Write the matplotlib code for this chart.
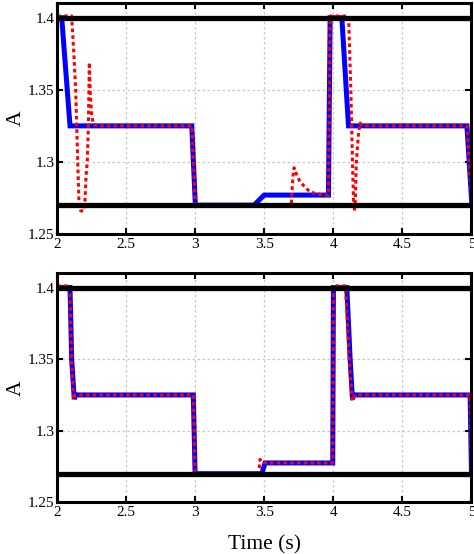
import matplotlib
matplotlib.use("Agg")
import matplotlib.pyplot as plt

plt.rcParams['font.family'] = ['Liberation Serif', 'DejaVu Serif']

# ---- data ----
x_ticks = [2, 2.5, 3, 3.5, 4, 4.5, 5]
x_tick_labels = ['2', '2.5', '3', '3.5', '4', '4.5', '5']
y_ticks = [1.25, 1.3, 1.35, 1.4]
y_tick_labels = ['1.25', '1.3', '1.35', '1.4']
upper_limit = 1.4
lower_limit = 1.27

# top panel - blue (reference)
t_blue_top = [2.00, 2.032, 2.092, 2.974, 3.000, 3.425, 3.498, 3.964, 3.976,
              4.061, 4.109, 4.967, 5.003]
y_blue_top = [1.40, 1.40, 1.325, 1.325, 1.27, 1.27, 1.277, 1.277, 1.40,
              1.40, 1.325, 1.325, 1.27]

# top panel - red dotted (response)
t_red_top = [2.00, 2.104, 2.118, 2.133, 2.148, 2.157, 2.170, 2.190, 2.200,
             2.208, 2.217, 2.225, 2.232, 2.240, 2.250, 2.261, 2.30, 2.974,
             3.000, 3.695, 3.700, 3.707, 3.715, 3.725, 3.759, 3.832, 3.928,
             3.964, 3.976, 4.110, 4.118, 4.126, 4.138, 4.146, 4.152, 4.158,
             4.166, 4.180, 4.193, 4.21, 4.967, 5.003]
y_red_top = [1.4012, 1.4012, 1.378, 1.35, 1.30, 1.272, 1.266, 1.266, 1.272,
             1.29, 1.30, 1.325, 1.369, 1.345, 1.332, 1.326, 1.325, 1.325,
             1.27, 1.27, 1.28, 1.29, 1.296, 1.293, 1.286, 1.279, 1.277,
             1.277, 1.4012, 1.4012, 1.375, 1.35, 1.30, 1.272, 1.266, 1.272,
             1.30, 1.318, 1.327, 1.325, 1.325, 1.27]

# bottom panel - blue
t_blue_bot = [2.00, 2.092, 2.104, 2.123, 2.13, 2.985, 2.998, 3.481, 3.505,
              3.995, 4.000, 4.097, 4.121, 4.138, 4.145, 4.99, 5.00]
y_blue_bot = [1.40, 1.40, 1.35, 1.322, 1.325, 1.325, 1.27, 1.27, 1.2775,
              1.2775, 1.40, 1.40, 1.35, 1.322, 1.325, 1.325, 1.27]

# bottom panel - red dotted
t_red_bot = [2.00, 2.090, 2.103, 2.118, 2.13, 2.985, 2.998, 3.460, 3.468,
             3.480, 3.505, 3.995, 4.000, 4.087, 4.115, 4.135, 4.145, 4.16,
             4.99, 5.00]
y_red_bot = [1.4012, 1.4012, 1.35, 1.322, 1.325, 1.325, 1.27, 1.27, 1.280,
             1.2785, 1.2775, 1.2775, 1.4012, 1.4012, 1.35, 1.321, 1.323, 1.325,
             1.325, 1.27]

fig = plt.figure(figsize=(4.74, 5.54), dpi=100)
ax_top = fig.add_axes([0.1209, 0.5776, 0.8738, 0.4164])
ax_bot = fig.add_axes([0.1209, 0.0933, 0.8738, 0.4134])

panels = [(ax_top, t_blue_top, y_blue_top, t_red_top, y_red_top),
          (ax_bot, t_blue_bot, y_blue_bot, t_red_bot, y_red_bot)]

for ax, tb, yb, tr, yr in panels:
    ax.plot(tb, yb, color=(0, 0, 1), lw=3.6, solid_joinstyle='miter', zorder=2)
    ax.plot(tr, yr, color=(1, 0, 0), lw=2.2, linestyle=(0, (1.2, 1.0)),
            dash_capstyle='butt', zorder=2.5)
    ax.axhline(upper_limit, color='black', lw=3.8, zorder=3)
    ax.axhline(lower_limit, color='black', lw=3.8, zorder=3)
    ax.set_xlim(2, 5)
    ax.set_ylim(1.25, 1.41)
    ax.set_xticks(x_ticks)
    ax.set_xticklabels(x_tick_labels)
    ax.set_yticks(y_ticks)
    ax.set_yticklabels(y_tick_labels)
    ax.grid(True, color='#c8c8c8', linestyle=(0, (2, 2)), lw=0.9, zorder=0)
    ax.set_axisbelow(True)
    ax.tick_params(direction='in', length=4, width=1.5, top=True, right=True,
                   labelsize=11, pad=3, colors='black')
    ax.tick_params(axis='y', pad=2)
    for s in ax.spines.values():
        s.set_linewidth(2.2)
        s.set_zorder(4)
    ax.set_ylabel('A', fontsize=15.5)
    ax.yaxis.set_label_coords(-0.077, 0.5)

ax_bot.set_xlabel('Time (s)', fontsize=15.5, labelpad=11)

fig.savefig('out.png', dpi=100)
